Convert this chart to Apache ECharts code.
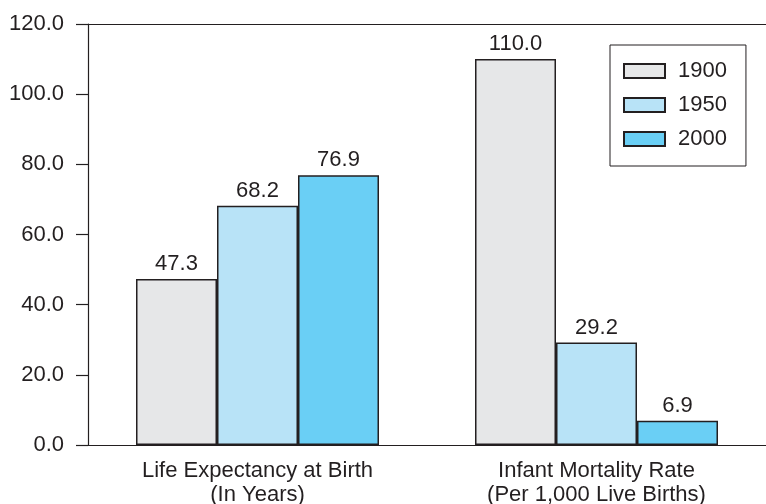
<!DOCTYPE html>
<html>
<head>
<meta charset="utf-8">
<script src="https://cdn.jsdelivr.net/npm/echarts@6/dist/echarts.min.js"></script>
<style>
  html, body { margin: 0; padding: 0; background: #fff; }
  #chart { width: 766px; height: 504px; }
</style>
</head>
<body>
<div id="chart"></div>
<script>
const categories = ['Life Expectancy at Birth\n(In Years)', 'Infant Mortality Rate\n(Per 1,000 Live Births)'];
const years = ['1900', '1950', '2000'];
const values1900 = [47.3, 110.0];
const values1950 = [68.2, 29.2];
const values2000 = [76.9, 6.9];
const yTicks = [0, 120, 20];

const colors = ['#e6e7e8', '#b8e3f7', '#6acff5'];
const ink = '#231f20';
const font = 'Liberation Sans, Arial, sans-serif';

let chartDom = document.getElementById('chart');
let myChart = echarts.init(chartDom, null, { renderer: 'canvas' });

function makeSeries(name, data, i) {
    return {
        name: name,
        type: 'bar',
        data: data,
        barWidth: 81,
        barGap: 0,
        itemStyle: {
            color: colors[i],
            borderColor: ink,
            borderWidth: 1.5
        },
        label: {
            show: true,
            position: 'top',
            distance: 4,
            color: ink,
            fontSize: 22,
            fontFamily: font,
            formatter: p => p.value.toFixed(1)
        }
    };
}

let option = {
    animation: false,
    backgroundColor: '#fff',
    grid: { left: 88, right: 0, top: 24, bottom: 59, outerBoundsMode: 'none', containLabel: false },
    legend: {
        data: years,
        orient: 'vertical',
        left: 610,
        top: 45,
        padding: [15, 19, 16, 13],
        itemWidth: 41,
        itemHeight: 14,
        itemGap: 12,
        borderColor: ink,
        borderWidth: 1,
        icon: 'rect',
        textStyle: { color: ink, fontSize: 22, fontFamily: font, padding: [0, 0, 0, 8] }
    },
    xAxis: [
        {
            type: 'category',
            data: categories,
            axisLine: { lineStyle: { color: ink, width: 1.2 } },
            axisTick: { show: false },
            axisLabel: {
                color: ink,
                fontSize: 22,
                fontFamily: font,
                lineHeight: 24,
                margin: 14
            }
        },
        {
            type: 'category',
            position: 'top',
            data: categories,
            axisLine: { lineStyle: { color: ink, width: 1.2 } },
            axisTick: { show: false },
            axisLabel: { show: false }
        }
    ],
    yAxis: {
        type: 'value',
        min: yTicks[0],
        max: yTicks[1],
        interval: yTicks[2],
        axisLine: { show: true, lineStyle: { color: ink, width: 1.2 } },
        axisTick: { show: true, length: 12, lineStyle: { color: ink, width: 1.2 } },
        splitLine: { show: false },
        axisLabel: {
            color: ink,
            fontSize: 22,
            fontFamily: font,
            margin: 24,
            formatter: v => v.toFixed(1)
        }
    },
    series: [
        makeSeries(years[0], values1900, 0),
        makeSeries(years[1], values1950, 1),
        makeSeries(years[2], values2000, 2)
    ]
};

option && myChart.setOption(option);
</script>
</body>
</html>
